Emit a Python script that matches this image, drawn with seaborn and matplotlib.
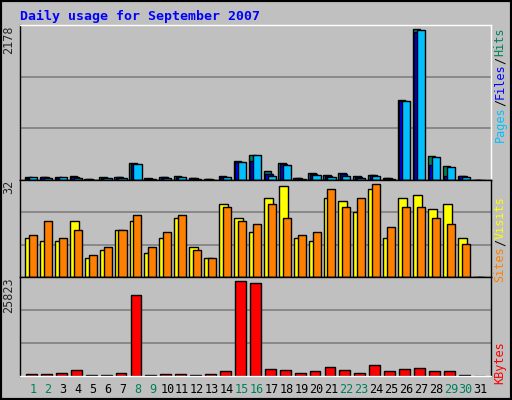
import numpy as np
import seaborn as sns
import matplotlib.pyplot as plt

days = list(range(1, 32))
hits = [40, 50, 40, 64, 15, 40, 50, 246, 30, 50, 64, 35, 15, 64, 271, 360, 123, 241, 35, 94, 79, 94, 64, 79, 35, 1158, 2178, 345, 197, 64, 0]
files = [30, 40, 35, 50, 10, 30, 40, 230, 20, 40, 50, 25, 10, 50, 262, 280, 80, 225, 25, 85, 60, 80, 45, 70, 25, 1148, 2134, 212, 60, 55, 0]
pages = [40, 35, 40, 35, 5, 25, 35, 227, 15, 35, 40, 15, 5, 40, 256, 360, 64, 212, 15, 79, 50, 64, 35, 64, 15, 1143, 2163, 330, 182, 50, 0]
visits = [13.3, 12.4, 12.4, 19.2, 6.4, 9.1, 16, 19.2, 8.1, 13.3, 20.2, 10.3, 6.4, 25.2, 20.2, 15.4, 27.1, 31.3, 13.3, 12.4, 27.1, 26.1, 22.3, 30.3, 13.3, 27.1, 28.2, 23.3, 25.1, 13.3, 0]
sites = [14.3, 19.2, 13.3, 16, 7.4, 10.2, 16, 21.3, 10.2, 15.4, 21.3, 9.1, 6.4, 24, 19.2, 18.1, 25.1, 20.2, 14.3, 15.4, 30.3, 24, 27.1, 32, 17.1, 24, 24, 20.2, 18.1, 11.2, 0]
kbytes = [660, 660, 940, 1500, 380, 380, 940, 21860, 380, 660, 660, 380, 660, 1225, 25823, 25250, 1790, 1500, 940, 1225, 2355, 1500, 940, 2920, 1225, 1790, 2070, 1225, 1225, 380, 0]
weekend = [1, 2, 8, 9, 15, 16, 22, 23, 29, 30]

sns.set_style("white")
plt.rcParams['font.family'] = ['DejaVu Sans Mono', 'DejaVu Sans']
grey = "#C0C0C0"
fig = plt.figure(figsize=(5.12, 4.0), dpi=100, facecolor=grey)
fig.patches.append(plt.Rectangle((0, 0), 1, 1, transform=fig.transFigure, fill=False, edgecolor="black", linewidth=3))

L, W = 20 / 512, 471 / 512
def fy(px):
    return 1 - px / 400
ax1 = fig.add_axes([L, fy(180), W, fy(25) - fy(180)])
ax2 = fig.add_axes([L, fy(277), W, fy(180) - fy(277)])
ax3 = fig.add_axes([L, fy(376), W, fy(277) - fy(376)])

x = np.array(days, dtype=float)
def bars(ax, vals, off, w, col):
    sns.barplot(x=x + off, y=vals, native_scale=True, width=w, color=col, edgecolor="black",
                linewidth=1, saturation=1, ax=ax, errorbar=None)

bars(ax1, hits, -0.3, 0.5, "#00805C")
bars(ax1, files, -0.2, 0.5, "#0000FF")
bars(ax1, pages, 0.0, 0.55, "#00C0FF")
bars(ax2, visits, -0.23, 0.6, "#FFFF00")
bars(ax2, sites, 0.0, 0.54, "#FF8000")
bars(ax3, kbytes, -0.1, 0.73, "#FF0000")

for ax, top, lab in [(ax1, 2240, "2178"), (ax2, 33.3, "32"), (ax3, 26860, "25823")]:
    ax.set_facecolor(grey)
    ax.set_xlim(0.13, 31.69)
    ax.set_ylim(0, top)
    for g in (top / 3, 2 * top / 3):
        ax.axhline(g, color="#808080", linewidth=1.2, zorder=0)
    ax.set_xticks([])
    ax.set_yticks([])
    ax.set_xlabel("")
    ax.set_ylabel("")
    for s in ax.spines.values():
        s.set_color("black")
        s.set_linewidth(1)
    ax.text(-0.025, 1.0, lab, transform=ax.transAxes, rotation=90, ha="center", va="top", fontsize=8.5)

ax1.spines["top"].set_color("white")
ax1.spines["right"].set_color("white")
ax3.spines["bottom"].set_color("white")

for d in days:
    ax3.text(d, -0.07, str(d), transform=ax3.get_xaxis_transform(), ha="center", va="top",
             fontsize=8.5, color="#00805C" if d in weekend else "black")

fig.text(20 / 512, fy(16), "Daily usage for September 2007", color="#0000FF", fontsize=9.5,
         fontweight="bold", va="center", ha="left")

fig.canvas.draw()
renderer = fig.canvas.get_renderer()

def side(parts, ytop):
    y = ytop
    for txt, col in parts:
        t = fig.text(500 / 512, y, txt, color=col, rotation=90, ha="center", va="top", fontsize=8.5)
        bb = t.get_window_extent(renderer)
        y -= bb.height / fig.bbox.height

side([("Hits", "#00805C"), ("/", "black"), ("Files", "#0000FF"), ("/", "black"), ("Pages", "#00C0FF")], fy(28))
side([("Visits", "#FFFF00"), ("/", "black"), ("Sites", "#FF8000")], fy(196))
side([("KBytes", "#FF0000")], fy(341))

fig.savefig("out.png", dpi=100, facecolor=grey)
